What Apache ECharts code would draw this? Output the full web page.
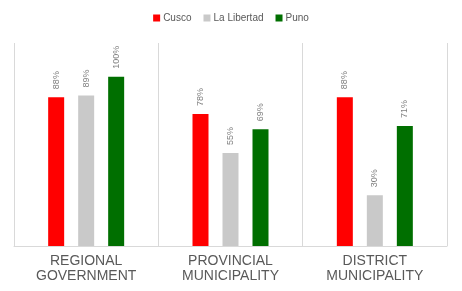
<!DOCTYPE html>
<html><head><meta charset="utf-8">
<script src="https://cdn.jsdelivr.net/npm/echarts@6/dist/echarts.min.js"></script>
<style>html,body{margin:0;padding:0;background:#fff}#c{width:462px;height:291px}</style>
</head><body><div id="c"></div>
<script>
const categories = ['REGIONAL\nGOVERNMENT', 'PROVINCIAL\nMUNICIPALITY', 'DISTRICT\nMUNICIPALITY'];
const seriesNames = ['Cusco', 'La Libertad', 'Puno'];
const cusco = [88, 78, 88];
const laLibertad = [89, 55, 30];
const puno = [100, 69, 71];
const colors = ['#ff0000', '#c9c9c9', '#006f00'];

const chart = echarts.init(document.getElementById('c'), null, {renderer: 'canvas'});
const dataSets = [cusco, laLibertad, puno];
chart.setOption({
  animation: false,
  textStyle: {fontFamily: 'Liberation Sans, Arial, sans-serif'},
  legend: {
    top: 8, left: 'center', itemWidth: 7, itemHeight: 7, itemGap: 12,
    icon: 'rect',
    textStyle: {fontSize: 10, color: '#595959', padding: [0, 0, 0, -2]},
    data: seriesNames
  },
  grid: {left: 14, right: 15, top: 43, bottom: 45},
  xAxis: {
    type: 'category', data: categories,
    axisLine: {lineStyle: {color: '#d9d9d9'}},
    axisTick: {show: false},
    splitLine: {show: true, lineStyle: {color: '#d9d9d9'}},
    axisLabel: {color: '#595959', fontSize: 14, lineHeight: 15, margin: 8}
  },
  yAxis: {type: 'value', min: 0, max: 120, show: false, splitLine: {show: false}},
  series: seriesNames.map((n, i) => ({
    name: n, type: 'bar', data: dataSets[i], barWidth: 16, barGap: '87.5%',
    itemStyle: {color: colors[i]},
    label: {
      show: true, position: 'top', rotate: 90, align: 'left', verticalAlign: 'middle',
      distance: 8, formatter: '{c}%', fontSize: 9, color: '#808080'
    }
  }))
});
</script></body></html>
